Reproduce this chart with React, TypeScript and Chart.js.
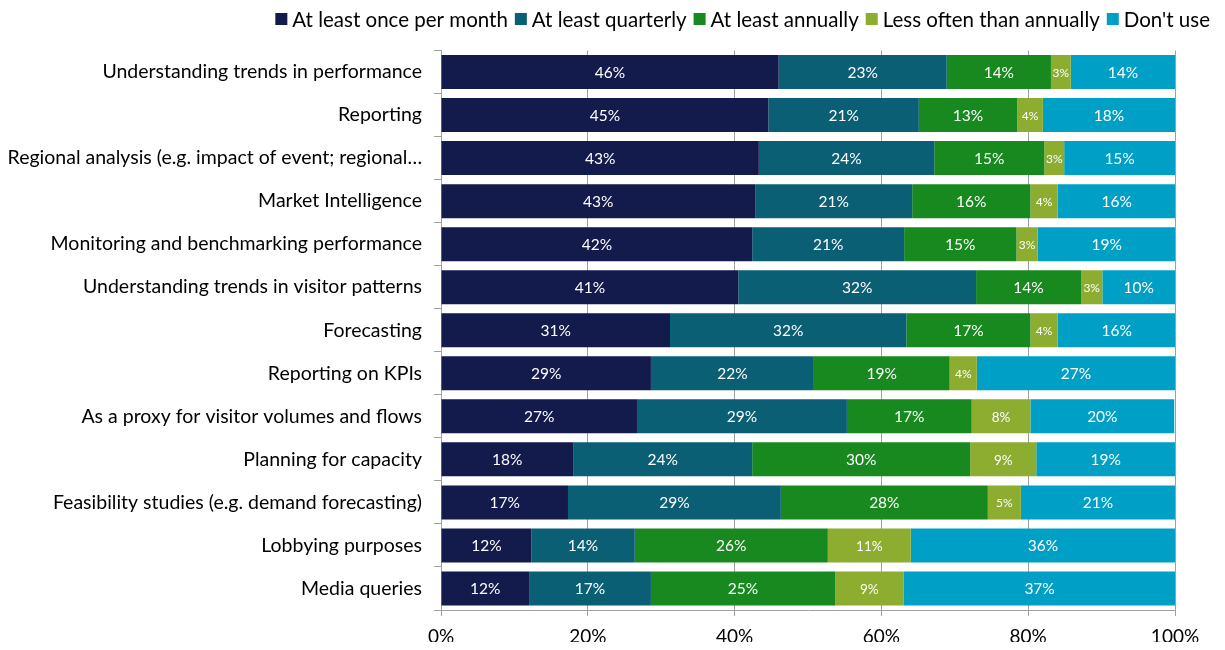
import React, { useEffect, useRef } from 'react';
import { Chart, registerables } from 'chart.js';

Chart.register(...registerables);

const categories = [
  'Understanding trends in performance',
  'Reporting',
  'Regional analysis (e.g. impact of event; regional…',
  'Market Intelligence',
  'Monitoring and benchmarking performance',
  'Understanding trends in visitor patterns',
  'Forecasting',
  'Reporting on KPIs',
  'As a proxy for visitor volumes and flows',
  'Planning for capacity',
  'Feasibility studies (e.g. demand forecasting)',
  'Lobbying purposes',
  'Media queries',
];

const seriesNames = [
  'At least once per month',
  'At least quarterly',
  'At least annually',
  'Less often than annually',
  "Don't use",
];

const monthly = [46.0, 44.6, 43.3, 42.8, 42.4, 40.5, 31.2, 28.6, 26.7, 18.0, 17.3, 12.3, 12.0];
const quarterly = [22.9, 20.5, 23.9, 21.4, 20.7, 32.4, 32.2, 22.2, 28.6, 24.4, 29.0, 14.1, 16.6];
const annually = [14.2, 13.4, 15.0, 16.1, 15.3, 14.3, 16.9, 18.5, 17.0, 29.7, 28.2, 26.3, 25.1];
const lessOften = [2.7, 3.5, 2.7, 3.7, 2.9, 2.9, 3.7, 3.7, 8.0, 9.0, 4.5, 11.3, 9.3];
const dontUse = [14.2, 18.0, 15.1, 16.1, 18.8, 9.9, 16.1, 27.0, 19.6, 18.9, 21.0, 36.0, 37.1];

const colors = ['#131a4c', '#0b5f74', '#17891f', '#8cad2f', '#00a0c6'];

const xTicks = [0, 20, 40, 60, 80, 100];

const FONT = 'Lato, "Noto Sans", sans-serif';

const dataLabelPlugin = {
  id: 'dataLabels',
  afterDatasetsDraw(chart: any) {
    const ctx = chart.ctx;
    ctx.save();
    ctx.textAlign = 'center';
    ctx.textBaseline = 'middle';
    ctx.fillStyle = '#ffffff';
    chart.data.datasets.forEach((ds: any, di: number) => {
      const meta = chart.getDatasetMeta(di);
      meta.data.forEach((el: any, i: number) => {
        const v = ds.data[i];
        const size = v < 6 ? 12 : di === 3 ? 13.5 : 15.5;
        ctx.font = `${size}px ${FONT}`;
        const cx = (el.x + el.base) / 2;
        ctx.fillText(Math.round(v) + '%', cx, el.y + 1);
      });
    });
    ctx.restore();
  },
};

const legendPlugin = {
  id: 'customLegend',
  afterDraw(chart: any) {
    const ctx = chart.ctx;
    ctx.save();
    ctx.font = `20.5px ${FONT}`;
    ctx.textBaseline = 'middle';
    ctx.textAlign = 'left';
    const box = 12;
    const gap = 5;
    const spacing = 7;
    const items = chart.data.datasets.map((ds: any) => ({
      label: ds.label,
      color: ds.backgroundColor,
      w: ctx.measureText(ds.label).width,
    }));
    const total = items.reduce((s: number, it: any) => s + box + gap + it.w, 0) + spacing * (items.length - 1);
    let x = 1202 - total;
    const y = 11;
    items.forEach((it: any) => {
      ctx.fillStyle = it.color;
      ctx.fillRect(x, y - box / 2, box, box);
      x += box + gap;
      ctx.fillStyle = '#000000';
      ctx.fillText(it.label, x, y + 1);
      x += it.w + spacing;
    });
    ctx.restore();
  },
};

export default function App() {
  const canvasRef = useRef<HTMLCanvasElement | null>(null);

  useEffect(() => {
    if (!canvasRef.current) return;
    const seriesData = [monthly, quarterly, annually, lessOften, dontUse];
    const chart = new Chart(canvasRef.current, {
      type: 'bar',
      data: {
        labels: categories,
        datasets: seriesData.map((d, i) => ({
          label: seriesNames[i],
          data: d,
          backgroundColor: colors[i],
          borderWidth: 0,
          barPercentage: 0.79,
          categoryPercentage: 1,
        })),
      },
      options: {
        indexAxis: 'y',
        animation: false,
        responsive: false,
        maintainAspectRatio: false,
        layout: { padding: { top: 42.5, right: 42, left: 0, bottom: 0 } },
        plugins: {
          legend: { display: false },
          tooltip: { enabled: false },
        },
        scales: {
          x: {
            stacked: true,
            min: 0,
            max: 100,
            afterBuildTicks: (scale: any) => {
              scale.ticks = xTicks.map((v) => ({ value: v }));
            },
            afterFit: (scale: any) => {
              scale.height = 32;
            },
            ticks: {
              callback: (v: any) => v + '%',
              font: { family: FONT, size: 19 },
              color: '#000000',
              padding: 9,
              maxRotation: 0,
            },
            grid: {
              color: '#a0a0a0',
              lineWidth: 1,
              tickLength: 6,
              drawTicks: true,
            },
            border: { color: '#a0a0a0', width: 1 },
          },
          y: {
            stacked: true,
            afterFit: (scale: any) => {
              scale.width = 433;
            },
            ticks: {
              font: { family: FONT, size: 19.5 },
              color: '#000000',
              padding: 12,
              autoSkip: false,
            },
            grid: {
              drawOnChartArea: false,
              drawTicks: true,
              tickLength: 7,
              color: '#a0a0a0',
              offset: true,
            },
            border: { color: '#a0a0a0', width: 1 },
          },
        },
      },
      plugins: [dataLabelPlugin, legendPlugin],
    });
    return () => chart.destroy();
  }, []);

  return (
    <div style={{ width: 1209, height: 634 }}>
      <canvas ref={canvasRef} width={1209} height={634} style={{ display: 'block' }} />
    </div>
  );
}
